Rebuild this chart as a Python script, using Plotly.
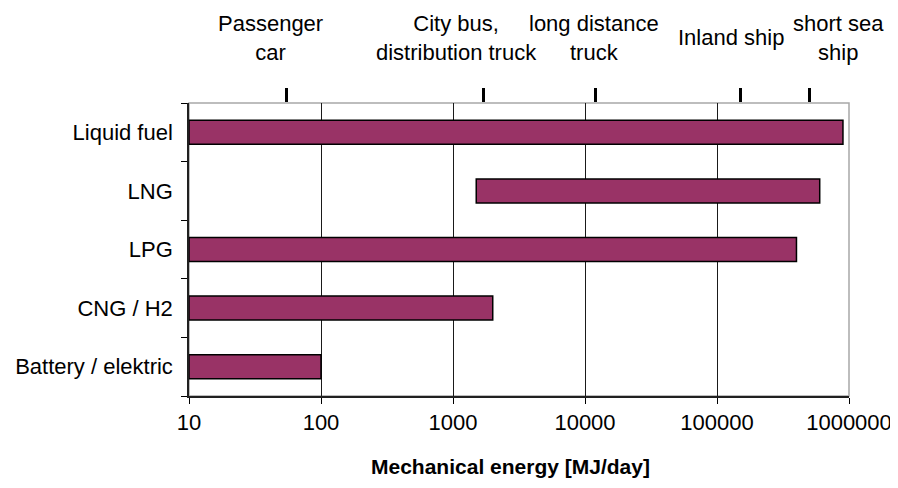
import plotly.graph_objects as go

# fuel types (top to bottom) and the energy range each one covers [MJ/day]
fuels = ['Liquid fuel', 'LNG', 'LPG', 'CNG / H2', 'Battery / elektric']
range_start = [10, 1500, 10, 10, 10]
range_end = [900000, 600000, 400000, 2000, 100]

# typical daily energy demand per vehicle type (top axis markers)
vehicles = ['Passenger<br>car', 'City bus,<br>distribution truck', 'long distance<br>truck',
            'Inland ship', 'short sea<br>ship']
vehicle_energy = [55, 1700, 12000, 150000, 500000]

x_ticks = [10, 100, 1000, 10000, 100000, 1000000]

font = dict(family='Liberation Sans, Arial, sans-serif', size=22, color='black')

fig = go.Figure()

fig.add_trace(go.Bar(
    y=fuels,
    x=[e - s for s, e in zip(range_start, range_end)],
    base=range_start,
    orientation='h',
    marker=dict(color='#993366', line=dict(color='black', width=1.5)),
    showlegend=False,
    hoverinfo='skip',
))

# invisible trace so the top axis gets drawn
fig.add_trace(go.Scatter(
    x=vehicle_energy,
    y=[fuels[0]] * len(vehicle_energy),
    xaxis='x2',
    mode='markers',
    marker=dict(opacity=0),
    showlegend=False,
    hoverinfo='skip',
))

# labels above the top axis ticks
label_x = [0.123, 0.406, 0.613, 0.821, 0.984]
for txt, lx in zip(vehicles, label_x):
    fig.add_annotation(
        text=txt, x=lx, y=1.223, xref='paper', yref='paper',
        xanchor='center', yanchor='middle', showarrow=False,
        font=font,
    )

fig.add_annotation(
    text='<b>Mechanical energy [MJ/day]</b>', x=0.487, y=-0.24,
    xref='paper', yref='paper', xanchor='center', yanchor='middle',
    showarrow=False, font=dict(font, size=21),
)

fig.add_shape(type='rect', xref='paper', yref='paper', x0=0, x1=1, y0=0, y1=1,
              line=dict(color='#a8a8a8', width=1.5), layer='below')

# page adds an 8px body margin, so the figure is made 8px smaller each way
fig.update_layout(
    width=890,
    height=480,
    margin=dict(l=181, r=49, t=95, b=92, autoexpand=False),
    paper_bgcolor='white',
    plot_bgcolor='white',
    font=font,
    bargap=0.59,
    xaxis=dict(
        type='log',
        range=[1, 6],
        tickvals=x_ticks,
        ticktext=[str(v) for v in x_ticks],
        ticks='outside',
        ticklen=6,
        tickcolor='black',
        showline=True,
        linecolor='#202020',
        linewidth=1.5,
        showgrid=True,
        gridcolor='#1a1a1a',
        gridwidth=1,
        zeroline=False,
        automargin=False,
    ),
    xaxis2=dict(
        type='log',
        range=[1, 6],
        overlaying='x',
        side='top',
        tickvals=vehicle_energy,
        showticklabels=False,
        ticks='outside',
        ticklen=14,
        tickwidth=2.5,
        tickcolor='black',
        showgrid=False,
        showline=False,
        zeroline=False,
        automargin=False,
    ),
    yaxis=dict(
        categoryorder='array',
        categoryarray=fuels[::-1],
        tickson='boundaries',
        ticks='outside',
        ticklen=6,
        tickcolor='black',
        showline=True,
        linecolor='#202020',
        linewidth=1.5,
        showgrid=False,
        ticklabelstandoff=10,
        automargin=False,
    ),
)

fig.write_html('out.html')
